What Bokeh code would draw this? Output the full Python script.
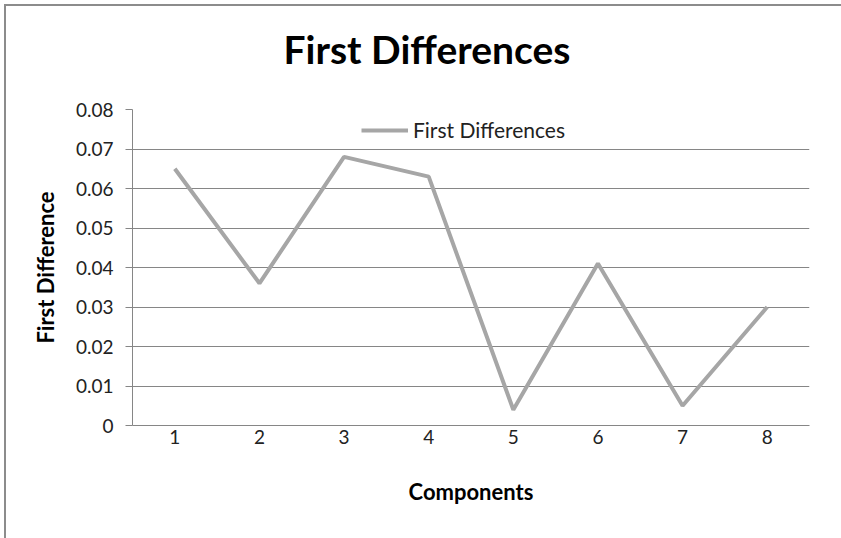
from bokeh.plotting import figure
from bokeh.models import Range1d, FixedTicker, Legend, LegendItem, CustomJSTickFormatter, Title
from bokeh.embed import file_html
from bokeh.resources import INLINE

# Data
components = [1, 2, 3, 4, 5, 6, 7, 8]
first_differences = [0.065, 0.036, 0.068, 0.063, 0.004, 0.041, 0.005, 0.030]
y_ticks = [0.0, 0.01, 0.02, 0.03, 0.04, 0.05, 0.06, 0.07, 0.08]
chart_title = "First Differences"

FONT = "Lato"
GRID = "#868686"
LINE = "#A6A6A6"

p = figure(
    width=840, height=536,
    x_range=Range1d(0.5, 8.5), y_range=Range1d(0, 0.08),
    output_backend="svg", toolbar_location=None,
    min_border_left=126, min_border_right=37,
    min_border_top=103, min_border_bottom=117,
)
# chart-area border: grey edge on the left and top
p.styles = {
    "margin-left": "6px", "margin-top": "6px",
    "box-shadow": "-2px -2px 0 0 #8c8c8c",
}

p.outline_line_color = None
p.background_fill_color = "white"
p.border_fill_color = "white"

# spacer between the title and the plot area, then the title itself
p.add_layout(Title(text=" ", text_font_size="10px", standoff=25), "above")
p.add_layout(Title(
    text=chart_title, align="left", offset=151, standoff=0,
    text_font=FONT, text_font_style="bold", text_font_size="39px", text_color="black",
), "above")

# Axes
p.xaxis.ticker = FixedTicker(ticks=components)
p.xaxis.axis_label = "Components"
p.xaxis.major_tick_out = 0
p.xaxis.major_tick_in = 0
p.xaxis.minor_tick_line_color = None
p.xaxis.axis_line_color = GRID
p.xaxis.major_label_standoff = 4

p.yaxis.ticker = FixedTicker(ticks=y_ticks)
p.yaxis.formatter = CustomJSTickFormatter(code="return tick === 0 ? '0' : tick.toFixed(2);")
p.yaxis.axis_label = "First Difference"
p.yaxis.major_tick_out = 7
p.yaxis.major_tick_in = 0
p.yaxis.major_tick_line_color = GRID
p.yaxis.minor_tick_line_color = None
p.yaxis.axis_line_color = GRID
p.yaxis.major_label_standoff = 12

for ax in (p.xaxis, p.yaxis):
    ax.major_label_text_font = FONT
    ax.major_label_text_font_size = "19px"
    ax.major_label_text_color = "#222222"
    ax.axis_label_text_font = FONT
    ax.axis_label_text_font_size = "22px"
    ax.axis_label_text_font_style = "bold"
    ax.axis_label_text_color = "black"

p.xaxis.axis_label_standoff = 31
p.yaxis.axis_label_standoff = 14

p.xgrid.grid_line_color = None
p.ygrid.grid_line_color = GRID
p.ygrid.grid_line_width = 1

line = p.line(components, first_differences, line_color=LINE, line_width=4)

legend = Legend(
    items=[LegendItem(label="First Differences", renderers=[line])],
    location=(229, 283),
    orientation="horizontal",
    border_line_color=None,
    background_fill_alpha=0,
    padding=0, margin=0,
    glyph_width=47, label_standoff=5,
    label_text_font=FONT, label_text_font_size="21px",
    label_text_color="#222222",
)
p.add_layout(legend)

open("out.html", "w").write(file_html(p, INLINE))
